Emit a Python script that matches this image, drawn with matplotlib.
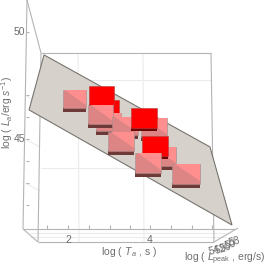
import matplotlib
matplotlib.use("Agg")
import matplotlib.pyplot as plt
from matplotlib.patches import Polygon, Rectangle

plt.rcParams["font.family"] = ["Liberation Sans", "DejaVu Sans"]
plt.rcParams["mathtext.fontset"] = "custom"
plt.rcParams["mathtext.rm"] = "Liberation Sans"
plt.rcParams["mathtext.it"] = "Liberation Sans:italic"

# boxes, back to front
log_t = [2.16, 2.94, 2.99, 2.82, 2.79, 3.39, 4.09, 3.29, 3.85, 4.30, 4.12, 3.96, 4.88]
log_la = [46.87, 46.40, 45.79, 47.03, 46.14, 45.61, 45.54, 44.88, 45.98, 44.18, 44.67, 43.88, 43.36]
is_red = [False, True, False, True, False, False, False, False, True, False, True, False, False]

# fitted plane corners
plane_t = [1.415, 5.463, 6.0, 1.05]
plane_la = [48.93, 44.63, 40.98, 46.36]

t_ticks = [2, 4]
la_ticks = [50, 45]
lpeak_labels = ["54", "52", "56", "50", "58"]

GRAY = "#6e6e6e"
LINE = "#b4b4b4"
GRID = "#ebebeb"

# axes fill the figure, scaled to the front edges of the box
fig = plt.figure(figsize=(2.66, 2.66), dpi=100)
ax = fig.add_axes([0, 0, 1, 1])
ax.set_xlim(2 - 68 / 41, 2 + 198 / 41)
ax.set_ylim(50 - 234 / 21.4, 50 + 32 / 21.4)
ax.axis("off")


def px(x, y):
    # figure pixel to data, used for the frame only
    return 2 + (x - 68) / 41, 50 - (y - 32) / 21.4


def seg(p0, p1, color=LINE, lw=0.8):
    a, b = px(*p0), px(*p1)
    ax.plot([a[0], b[0]], [a[1], b[1]], color=color, lw=lw, solid_capstyle="butt", zorder=1)


# grid on the back wall
for x in [78, 143]:
    seg((x, 53), (x + 1, 242), GRID)
for y in [80, 168]:
    seg((41, y), (212, y), GRID)
for y in [233, 237]:
    seg((30, y), (226, y), GRID)
for y in [95, 139, 183]:
    seg((25, y), (40, y + 8), GRID)

# frame
seg((41, 53), (211, 53))
seg((211, 53), (214, 242))
seg((27, 0), (41, 53))
seg((27, 0), (23, 229))
seg((41, 53), (38, 242))
seg((23, 229), (38, 242))
seg((38, 242), (214, 242))
seg((23, 229), (235, 229))
seg((214, 242), (238, 228))

# minor ticks
for x in [47, 68, 89, 110, 130, 150, 171, 192, 212]:
    seg((x, 229), (x, 225))
for y in [32, 95, 117, 139, 161, 183, 205]:
    seg((26, y), (29, y))

# plane
ax.add_patch(Polygon(list(zip(plane_t, plane_la)), closed=True, facecolor="#d6d2cb",
                     edgecolor="#77756f", lw=0.8, zorder=2))

# boxes
for i in range(len(log_t)):
    w = 0.57 + 0.035 * (log_t[i] - 2)
    h = 0.84 + 0.03 * (log_t[i] - 2)
    x0 = log_t[i] - w / 2
    y0 = log_la[i] - h / 2
    z = 3 + i
    if is_red[i]:
        ax.add_patch(Rectangle((x0, y0 - 0.15), w, 0.2, facecolor="#6e0404", edgecolor="none", zorder=z))
        ax.add_patch(Rectangle((x0, y0), w, h, facecolor="#ff0000", edgecolor="#b04040", lw=0.4, zorder=z))
    else:
        ax.add_patch(Rectangle((x0, y0 - 0.19), w, 0.25, facecolor="#6e3a38", edgecolor="none", zorder=z))
        ax.add_patch(Rectangle((x0, y0), w, h, facecolor="#dd8484", edgecolor="#a89090", lw=0.4, zorder=z))
        # lit corner of the top face
        tri = [(x0 + 0.1 * w, y0 + h), (x0 + w, y0 + h), (x0 + w, y0 + 0.15 * h)]
        ax.add_patch(Polygon(tri, closed=True, facecolor="#ff8f8f", edgecolor="none", zorder=z))

# tick labels
for v in t_ticks:
    ax.text(v, px(0, 240)[1], str(v), color=GRAY, fontsize=7.5, ha="center", va="center")
for v in la_ticks:
    ax.text(px(19, 0)[0], v, str(v), color=GRAY, fontsize=7.5, ha="center", va="center")

lpeak_pos = [(214, 251), (220, 250), (225, 248), (230, 245), (234, 242)]
for lab, p in zip(lpeak_labels, lpeak_pos):
    q = px(*p)
    ax.text(q[0], q[1], lab, color=GRAY, fontsize=7.5, ha="center", va="center", rotation=15)

# axis titles
q = px(129, 252)
ax.text(q[0], q[1], r"log ( $\mathit{T}_{\,a}$ , s )", color=GRAY, fontsize=7.5, ha="center", va="center")
q = px(225, 259)
ax.text(q[0], q[1], r"log ( $\mathit{L}_{\rm peak}$ , erg/s)", color=GRAY, fontsize=7.5, ha="center", va="center")
q = px(7.5, 112)
ax.text(q[0], q[1], r"log ( $\mathit{L}_a$/erg $\mathit{s}^{-1}$)", color=GRAY, fontsize=7.5,
        ha="center", va="center", rotation=90)

fig.savefig("out.png", dpi=100)
